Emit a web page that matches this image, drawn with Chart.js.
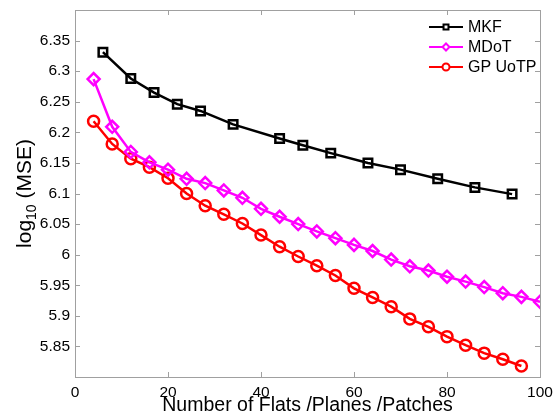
<!DOCTYPE html>
<html>
<head>
<meta charset="utf-8">
<script src="https://cdn.jsdelivr.net/npm/chart.js@4"></script>
<style>
  body { margin: 0; background: #fff; }
  #wrap { width: 555px; height: 417px; }
</style>
</head>
<body>
<div id="wrap"><canvas id="grafica"></canvas></div>
<script>
// Datos
const xMKF = [6, 12, 17, 22, 27, 34, 44, 49, 55, 63, 70, 78, 86, 94];
const yMKF = [6.331, 6.288, 6.265, 6.246, 6.235, 6.213, 6.190, 6.179, 6.166, 6.150, 6.139, 6.124, 6.110, 6.099];

const xMDoT = [4, 8, 12, 16, 20, 24, 28, 32, 36, 40, 44, 48, 52, 56, 60, 64, 68, 72, 76, 80, 84, 88, 92, 96, 100];
const yMDoT = [6.287, 6.209, 6.168, 6.151, 6.139, 6.124, 6.117, 6.105, 6.093, 6.075, 6.062, 6.050, 6.038, 6.027, 6.016, 6.006, 5.992, 5.981, 5.974, 5.964, 5.956, 5.947, 5.937, 5.931, 5.923];

const xGP = [4, 8, 12, 16, 20, 24, 28, 32, 36, 40, 44, 48, 52, 56, 60, 64, 68, 72, 76, 80, 84, 88, 92, 96];
const yGP = [6.218, 6.181, 6.157, 6.143, 6.125, 6.100, 6.080, 6.066, 6.051, 6.032, 6.013, 5.997, 5.982, 5.966, 5.945, 5.930, 5.915, 5.895, 5.882, 5.866, 5.852, 5.839, 5.829, 5.818];

const xTicks = [0, 20, 40, 60, 80, 100];
const yTicks = [5.85, 5.9, 5.95, 6, 6.05, 6.1, 6.15, 6.2, 6.25, 6.3, 6.35];

const series = [
    { label: 'MKF', xs: xMKF, ys: yMKF, color: '#000000', estilo: 'rect', radio: 6 },
    { label: 'MDoT', xs: xMDoT, ys: yMDoT, color: '#ff00ff', estilo: 'rectRot', radio: 6 },
    { label: 'GP UoTP', xs: xGP, ys: yGP, color: '#ff0000', estilo: 'circle', radio: 5.5 }
];

const fuente = '"Liberation Sans", Arial, sans-serif';
const gris = '#a0a0a0';

// Marco, marcas de los ejes, titulos y leyenda
const extras = {
    id: 'extras',
    beforeDatasetsDraw(chart) {
        const ctx = chart.ctx;
        const a = chart.chartArea;
        const sx = chart.scales.x, sy = chart.scales.y;
        ctx.save();
        ctx.strokeStyle = gris;
        ctx.lineWidth = 1;
        ctx.beginPath();
        xTicks.forEach(v => {
            const px = Math.round(sx.getPixelForValue(v)) + 0.5;
            ctx.moveTo(px, a.bottom); ctx.lineTo(px, a.bottom - 5);
            ctx.moveTo(px, a.top); ctx.lineTo(px, a.top + 5);
        });
        yTicks.forEach(v => {
            const py = Math.round(sy.getPixelForValue(v)) + 0.5;
            ctx.moveTo(a.left, py); ctx.lineTo(a.left + 5, py);
            ctx.moveTo(a.right, py); ctx.lineTo(a.right - 5, py);
        });
        ctx.stroke();
        ctx.strokeRect(Math.round(a.left) + 0.5, Math.round(a.top) + 0.5,
            Math.round(a.right - a.left), Math.round(a.bottom - a.top));
        ctx.restore();
    },
    afterDraw(chart) {
        const ctx = chart.ctx;
        const a = chart.chartArea;
        ctx.save();
        // titulo eje x
        ctx.fillStyle = '#000';
        ctx.font = '19.5px ' + fuente;
        ctx.textAlign = 'center';
        ctx.textBaseline = 'alphabetic';
        ctx.fillText('Number of Flats /Planes /Patches', (a.left + a.right) / 2, 411);

        // titulo eje y con subindice
        ctx.translate(31, (a.top + a.bottom) / 2);
        ctx.rotate(-Math.PI / 2);
        const f1 = '21px ' + fuente, f2 = '14px ' + fuente;
        ctx.font = f1; const w1 = ctx.measureText('log').width; const w3 = ctx.measureText(' (MSE)').width;
        ctx.font = f2; const w2 = ctx.measureText('10').width;
        let x0 = -(w1 + w2 + w3) / 2;
        ctx.textAlign = 'left';
        ctx.font = f1; ctx.fillText('log', x0, 0);
        ctx.font = f2; ctx.fillText('10', x0 + w1, 5);
        ctx.font = f1; ctx.fillText(' (MSE)', x0 + w1 + w2, 0);
        ctx.restore();

        // leyenda
        ctx.save();
        ctx.font = '16px ' + fuente;
        ctx.textBaseline = 'middle';
        series.forEach((s, i) => {
            const y = 27 + i * 20;
            ctx.strokeStyle = s.color;
            ctx.lineWidth = 2;
            ctx.beginPath(); ctx.moveTo(429, y); ctx.lineTo(463, y); ctx.stroke();
            ctx.fillStyle = '#fff';
            Chart.helpers.drawPoint(ctx, { pointStyle: s.estilo, radius: 3.5, borderWidth: 2 }, 446, y);
            ctx.fillStyle = '#000';
            ctx.fillText(s.label, 468, y + 1);
        });
        ctx.restore();
    }
};

const datasets = series.map(s => ({
    label: s.label,
    data: s.xs.map((x, i) => ({ x: x, y: s.ys[i] })),
    showLine: true,
    borderColor: s.color,
    backgroundColor: 'rgba(0,0,0,0)',
    borderWidth: 2.5,
    pointStyle: s.estilo,
    pointRadius: s.radio,
    pointBorderWidth: 2.5,
    pointBorderColor: s.color,
    pointBackgroundColor: 'rgba(0,0,0,0)',
    tension: 0
}));

new Chart(document.getElementById('grafica'), {
    type: 'scatter',
    data: { datasets: datasets },
    options: {
        responsive: true,
        maintainAspectRatio: false,
        animation: false,
        layout: { padding: { top: 10, right: 15, left: 0, bottom: 0 } },
        plugins: { legend: { display: false }, tooltip: { enabled: false } },
        scales: {
            x: {
                type: 'linear', min: 0, max: 100,
                afterBuildTicks: s => { s.ticks = xTicks.map(v => ({ value: v })); },
                afterFit: s => { s.height = 40; s.paddingLeft = 0; s.paddingRight = 0; },
                grid: { display: false, drawTicks: false },
                border: { display: false },
                ticks: { color: '#000', font: { family: fuente, size: 15.5 }, padding: 6, maxRotation: 0 }
            },
            y: {
                type: 'linear', min: 5.8, max: 6.4,
                afterBuildTicks: s => { s.ticks = yTicks.map(v => ({ value: v })); },
                afterFit: s => { s.width = 75; s.paddingTop = 0; s.paddingBottom = 0; },
                grid: { display: false, drawTicks: false },
                border: { display: false },
                ticks: { color: '#000', font: { family: fuente, size: 15.5 }, padding: 5,
                    callback: v => String(Math.round(v * 100) / 100) }
            }
        }
    },
    plugins: [extras]
});
</script>
</body>
</html>
